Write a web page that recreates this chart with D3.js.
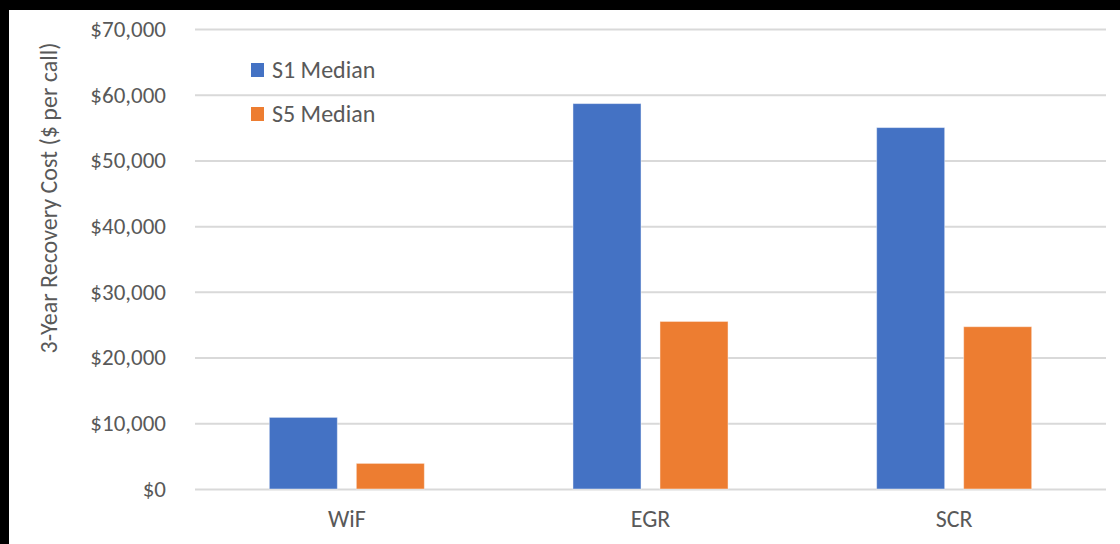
<!DOCTYPE html>
<html>
<head>
<meta charset="utf-8">
<script src="https://cdn.jsdelivr.net/npm/d3@7"></script>
<style>
  body { margin: 0; background: #000; }
  svg { display: block; }
  text { font-family: Carlito, Calibri, Lato, sans-serif; fill: #595959; }
</style>
</head>
<body>
<svg class="chart" width="1120" height="544"></svg>
<script>
var categories = ['WiF', 'EGR', 'SCR']
var seriesNames = ['S1 Median', 'S5 Median']
var s1Values = [10900, 58650, 55000]
var s5Values = [3900, 25500, 24700]
var yTicks = [0, 10000, 20000, 30000, 40000, 50000, 60000, 70000]
var colors = ['#4472C4', '#ED7D31']

var svg = d3.select('.chart')

// white chart area (black frame on top / left like the screenshot)
svg.append('rect')
    .attr('x', 9).attr('y', 10)
    .attr('width', 1111).attr('height', 534)
    .attr('fill', '#fff')

var yScale = d3.scaleLinear().domain([0, 70000]).range([489, 29])
var xScale = d3.scaleBand().domain(categories).range([195, 1106])
var xInner = d3.scaleBand().domain(seriesNames)
    .range([0, xScale.bandwidth()])
    .paddingInner(0.218)
    .paddingOuter(0.854)

// grid + tick labels
var yAxis = d3.axisLeft(yScale)
    .tickValues(yTicks)
    .tickSize(-(1106 - 195))
    .tickPadding(29)
    .tickFormat(function(d) { return '$' + d3.format(',')(d) })

var yG = svg.append('g')
    .attr('class', 'y-axis')
    .attr('transform', 'translate(195, 0)')
    .call(yAxis)
yG.select('.domain').remove()
yG.selectAll('.tick line').attr('stroke', '#d9d9d9').attr('stroke-width', 2)
yG.selectAll('.tick text').attr('font-size', 23).style('fill', '#595959')

// bars
var rows = categories.map(function(c, i) {
    return { cat: c, values: [s1Values[i], s5Values[i]] }
})

var groups = svg.selectAll('.group').data(rows)
    .enter()
    .append('g')
    .attr('class', 'group')
    .attr('transform', function(d) { return 'translate(' + xScale(d.cat) + ', 0)' })

groups.selectAll('rect').data(function(d) {
        return d.values.map(function(v, i) { return { name: seriesNames[i], value: v, i: i } })
    })
    .enter()
    .append('rect')
    .attr('x', function(d) { return xInner(d.name) })
    .attr('width', xInner.bandwidth())
    .attr('y', function(d) { return yScale(d.value) })
    .attr('height', function(d) { return yScale(0) - yScale(d.value) })
    .attr('fill', function(d) { return colors[d.i] })
    .attr('stroke', 'rgba(255,255,255,0.45)')
    .attr('stroke-width', 1)

// x labels
var xAxis = d3.axisBottom(xScale).tickSize(0).tickPadding(21)
var xG = svg.append('g')
    .attr('class', 'x-axis')
    .attr('transform', 'translate(0, 489)')
    .call(xAxis)
xG.select('.domain').remove()
xG.selectAll('.tick text').attr('font-size', 24).style('fill', '#595959')

// y title
svg.append('text')
    .attr('transform', 'translate(57, 198) rotate(-90)')
    .attr('text-anchor', 'middle')
    .attr('font-size', 24)
    .text('3-Year Recovery Cost ($ per call)')

// legend
var legend = svg.append('g').attr('transform', 'translate(251, 63)')
var leg = legend.selectAll('.leg').data(seriesNames)
    .enter()
    .append('g')
    .attr('class', 'leg')
    .attr('transform', function(d, i) { return 'translate(0,' + (i * 44) + ')' })
leg.append('rect')
    .attr('width', 13).attr('height', 14)
    .attr('fill', function(d, i) { return colors[i] })
leg.append('text')
    .attr('x', 21).attr('y', 7)
    .attr('dy', '0.35em')
    .attr('font-size', 24)
    .text(function(d) { return d })
</script>
</body>
</html>
